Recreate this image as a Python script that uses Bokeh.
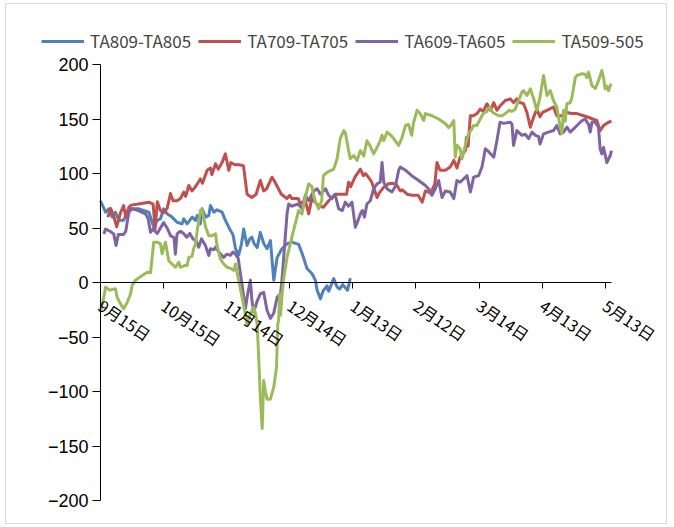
from bokeh.plotting import figure
from bokeh.models import FixedTicker, Legend, LegendItem, Range1d
from bokeh.embed import file_html
from bokeh.resources import INLINE

# ---- data (x = days after 9月15日) ----
tick_days = [0, 30, 60, 90, 120, 150, 180, 210, 240]
tick_labels = ["9月15日", "10月15日", "11月14日", "12月14日", "1月13日",
               "2月12日", "3月14日", "4月13日", "5月13日"]
y_ticks = [-200, -150, -100, -50, 0, 50, 100, 150, 200]
y_tick_labels = ["\u2212200", "\u2212150", "\u2212100", "\u221250", "0", "50", "100", "150", "200"]

ta809_x = [0, 2.4, 4, 5.6, 7.1, 8.7, 11, 13.5, 18.2, 23, 25.3, 27, 28.5, 30, 31.7, 34, 36.4,
           38.8, 39.6, 41.2, 43.6, 45.2, 46, 47.5, 48.3, 50, 51.5, 52.3, 53.9, 55.4, 57.8,
           59.4, 61.8, 63, 64.2, 65.7, 67, 68.1, 69.7, 71, 72, 73, 74.5, 76, 77.6, 79.2,
           80.8, 82.4, 84, 86.3, 88.7, 91, 94.2, 95.9, 98.2, 100.6, 102.2, 103, 104.6,
           105.8, 107.7, 108.5, 110.9, 112.5, 113.7, 115.2, 117.5, 118.8]
ta809_y = [75, 64.5, 67.6, 60, 64.5, 57, 57, 67.6, 67.6, 64.5, 51, 57, 58.4, 67.6, 63, 60, 55.3,
           53.8, 58.4, 53.8, 60, 57, 61.5, 53.8, 67.6, 60, 61.5, 70.6, 64.5, 66.7, 64.5,
           57, 47.7, 44, 31, 25, 35, 49, 34, 40, 41.6, 36, 32, 46, 36, 31,
           38.5, 2, 23, 31, 35.6, 37, 35, 26.6, 12.8, 8, 2, -7, -15,
           -8, -3, -8, 3.6, -4, -6, -2, -7, 4]

ta709_x = [3.5, 4.8, 6, 7.7, 9.5, 11, 12, 13.5, 14.5, 18, 23, 25, 26, 27, 28.5, 30, 31.7, 33.3,
           34.5, 36.4, 38, 39.6, 40.5, 42, 43.5, 45, 47.5, 48.5, 50.7, 52.3, 53, 54.7, 56,
           57.8, 59.4, 61, 62, 64, 66, 68, 69.7, 72, 74, 76, 77.6, 79, 81.6, 83, 86, 88.7,
           90, 91, 94, 95, 97.4, 99, 100.5, 102.8, 106, 108.5, 111.7, 115, 117, 118, 119,
           121, 123.6, 125, 126, 128, 129, 131.5, 132.5, 134.7, 137, 139, 140.6, 142.6,
           143.5, 145.8, 148, 151, 153, 154.5, 157, 159, 160, 161.5, 164, 166.3, 168,
           169.5, 171, 173.5, 174, 174.8, 175.9, 177.4, 179, 180.6, 182, 183.8, 185.5,
           187, 188.5, 190, 192.5, 194.9, 196.4, 198, 199.6, 201.2, 202.8, 204.4, 206,
           207.5, 209, 210.2, 212.3, 215.4, 217, 219.5, 221.8, 224, 226.6, 229.7, 232,
           234, 236, 237.6, 239.2, 241.6, 243]
ta709_y = [60, 68, 63, 51, 64, 70.6, 60, 69, 71, 72, 73.7, 72, 49.5, 74, 66, 64, 68, 81.6,
           75, 75, 77, 83, 79, 89, 84, 87.5, 95, 91, 103, 105, 99, 109, 104,
           110, 118, 103, 110, 108, 108, 107, 81, 78, 81, 93.6, 84, 86, 96.6, 92, 81, 77,
           80, 77, 77, 72.5, 75, 63, 77, 72, 69, 75, 81, 81, 81, 92, 88,
           96.6, 104, 98, 100, 95, 92, 78, 82, 87.5, 90.5, 91, 90, 84,
           85, 81, 80, 80, 73.7, 84, 82, 90.5, 110, 103, 103, 106, 112,
           105, 115, 121, 133, 125, 153, 153, 155, 159, 157, 164, 158,
           165, 158, 162, 167, 168.5, 165, 168.5, 165, 164, 156, 142.5, 152,
           159, 152, 156, 158, 161, 153, 153, 156, 155, 155, 153, 151.6,
           150, 148.6, 139.4, 144, 147, 148]

ta609_x = [1.6, 2.4, 4.5, 6.3, 7.4, 8.5, 11, 12, 13.5, 15, 18, 21.4, 22.6, 23.8, 25, 27, 28.5,
           30, 31.7, 33.3, 35, 35.6, 36.4, 38, 39.5, 41, 42.5, 44, 45.5, 46.7, 48, 49.9,
           51.5, 52.3, 53.9, 54.7, 56.2, 58.6, 60, 61.8, 63, 64.2, 65.5, 67, 68.9, 70,
           71.3, 72, 72.9, 74.5, 76, 77.6, 79.2, 80.8, 82.4, 84, 85.6, 86.3, 88.7, 89.5,
           91, 94, 95.9, 97.4, 99, 101.4, 103, 104.6, 107, 108.5, 110, 111.5, 113.3, 115,
           116.4, 118, 119.6, 120.4, 121.2, 122.5, 123.6, 124.5, 125.5, 126.7, 128.3,
           129.9, 131.5, 133, 133.9, 134.7, 136.3, 138.6, 140.2, 141.8, 142.6, 145, 148,
           151.3, 154.5, 156, 157.6, 159.2, 160.8, 162.4, 164, 166.3, 168, 169.5, 171,
           172.7, 174.3, 175.9, 176.7, 177.4, 179.8, 181.4, 182, 183, 184.6, 187, 188.5,
           190, 191.7, 194.9, 195.7, 196.4, 198, 200.4, 202, 203.6, 205.2, 206.8, 208.3,
           209, 210.7, 213, 215.4, 217, 218.6, 220.2, 221.8, 223.4, 225, 226.6, 229,
           230.5, 232.1, 232.9, 233.7, 235.3, 236.8, 237.6, 238.4, 239.2, 240.8, 242.4, 243]
ta609_y = [44.6, 49, 47, 44.6, 34, 44, 44, 47, 64.5, 67.6, 66, 63, 59, 46, 49, 45, 50,
           55, 50, 43, 41, 26, 44.6, 47, 45, 41.6, 45, 40, 38, 32.4, 40, 34,
           24.8, 31, 30, 32.4, 28, 23, 26, 25, 28, 26, 22, 2, -24, -10.4,
           2, -16.5, -27, -17, -10.4, -9, -25.7, -33, -28, -13.5, -10.4, 2, 63, 72,
           70, 72, 67.6, 80, 75, 84, 86, 81, 86, 80, 77, 81, 67.6, 66,
           73.7, 70, 73.7, 62, 50.7, 57, 63, 66, 60, 72, 75,
           86, 90.5, 92, 110, 92, 86, 83, 88, 103, 106, 103, 98,
           93.6, 89, 86, 80, 86, 93.6, 78, 84, 83, 77, 93.6, 92,
           95, 98, 83, 90, 96.6, 98, 106, 112, 122.7, 120, 115, 130,
           147, 146, 147, 145, 125.7, 139.4, 135, 136, 132, 138, 135, 134,
           127, 136.4, 138, 139.4, 144, 136.4, 138, 142.5, 138, 141, 144, 148.6,
           150, 145, 138, 147, 147, 142.5, 122.7, 118, 124, 110, 116.5, 121]

ta509_x = [0, 1.6, 2.4, 4.5, 6.5, 7.1, 7.9, 9.5, 11, 12.5, 14.3, 15, 16.6, 18, 19.8, 22.2,
           23.8, 25.3, 27, 28.5, 29.3, 30, 30.9, 31.7, 32.5, 34, 35.6, 37.2, 38, 40, 41.2,
           42, 43.5, 44.3, 45.2, 46, 47.5, 48.3, 49, 50, 51.5, 53, 54.7, 55.4, 57, 58.6,
           60.2, 61.8, 63.4, 64.2, 65.7, 68.1, 69.7, 71.3, 72.9, 73.7, 74.5, 75.3, 76,
           76.9, 77.6, 78.4, 79.2, 80.8, 82.4, 83.7, 84.3, 84.7, 85.2, 85.6, 86.3, 87,
           88.7, 91, 94.2, 95.8, 97.4, 99, 100.5, 102, 103.8, 105.2, 106, 107.7, 110.9,
           112.5, 114, 115.7, 116.5, 118, 118.8, 120.4, 122, 123.6, 125.2, 126.7, 128.3,
           129.9, 131.5, 133, 133.9, 134.7, 136.3, 138.6, 140.2, 141.8, 143.4, 145, 146.5,
           148, 148.8, 150.5, 152, 153.7, 154.5, 157.6, 160.8, 164, 165.6, 167.1, 168,
           168.7, 169.5, 171, 171.9, 173.5, 175, 176.6, 177.4, 179, 180.6, 182, 183.7,
           185, 186.5, 189.3, 191, 192.5, 194.2, 195.7, 197.2, 198.8, 200.4, 201.2, 202.8,
           204.4, 206, 207.5, 209, 210.7, 211.5, 212.3, 213.9, 215.4, 217, 218.6, 219.4,
           220.2, 221, 221.8, 223.4, 224.2, 225.8, 226.6, 229, 230.5, 231.3, 232.1, 233.7,
           235.3, 236.8, 238.4, 239.2, 240, 240.8, 241.6, 242.4, 243]
ta509_y = [-25.7, -13.5, -4.3, -7, -6, -5.8, -13.5, -19.6, -24, -19, -10.4, -2.8, 2, 4, 6.4, 9.5,
           9, 37, 37, 35.5, 26.3, 32, 37, 28, 20, 17, 14, 18.6, 14, 15.5, 15.6,
           23, 24, 31, 35.5, 47.7, 66, 67, 60, 50.7, 43, 43, 44.6, 34, 21.7, 17,
           14, 13, 11, 17, 2, -21, -38, -28.7, -22.6, -28.7, -38, -71.6, -105,
           -134, -90, -100, -107, -107, -96, -77.7, -38, -35, -10.4, -30, -12, 2,
           23, 41.6, 66, 63, 78, 90.5, 88, 75, 67.6, 75, 98, 101, 104,
           113.5, 132, 139.4, 137, 121, 113.5, 116.5, 112, 121, 116, 130, 125,
           118, 124, 130, 135, 130, 138, 134, 130, 125.7, 133, 144, 145,
           135, 146, 158, 155, 148.6, 155, 153, 150, 145.6, 142, 145.6, 148.6,
           115, 126, 122.7, 113.5, 126, 136.4, 141, 144, 144, 150, 155, 157,
           161, 156, 153, 153, 155, 158, 157, 159, 167, 174.6, 176, 171.6,
           177.7, 168.5, 158, 170, 190, 181, 171.6, 176, 167, 161, 142.5, 136.4,
           158, 148, 164, 165, 170, 188, 190, 191.5, 191, 188, 193, 180.7,
           178, 185, 194.5, 188, 177.7, 180, 176, 180.7, 182]

names = ["TA809-TA805", "TA709-TA705", "TA609-TA605", "TA509-505"]
colors = ["#4F81BD", "#C0504D", "#8064A2", "#9BBB59"]
series = [(ta809_x, ta809_y), (ta709_x, ta709_y), (ta609_x, ta609_y), (ta509_x, ta509_y)]

CJK = "Noto Sans CJK SC"

# the plotting frame fills the whole chart box; axes cross at (0, 0)
W, H = 662, 521
kx = 511 / 243.0       # px per day
ky = 436 / 400.0       # px per unit
x0 = -94 / kx
x1 = x0 + W / kx
y1 = 200 + 60 / ky
y0 = y1 - H / ky

p = figure(width=W, height=H, output_backend="svg", toolbar_location=None,
           x_range=Range1d(x0, x1), y_range=Range1d(y0, y1),
           min_border=0, min_border_left=0, min_border_right=0,
           min_border_top=0, min_border_bottom=0,
           styles={"border": "1px solid #D9D9D9", "margin-left": "5px", "margin-top": "3px"})
p.outline_line_color = None
p.xgrid.visible = False
p.ygrid.visible = False

renderers = []
for (xs, ys), c in zip(series, colors):
    r = p.line(xs, ys, line_color=c, line_width=3, line_join="round")
    renderers.append(r)

xa = p.xaxis[0]
xa.fixed_location = 0
xa.bounds = (0, 243)
xa.ticker = FixedTicker(ticks=tick_days)
xa.major_label_overrides = {d: l for d, l in zip(tick_days, tick_labels)}
xa.major_label_orientation = -0.6
xa.major_label_text_font = CJK
xa.major_label_text_font_size = "16px"
xa.major_label_text_color = "black"
xa.major_label_standoff = 15
xa.major_tick_in = 0
xa.major_tick_out = 6
xa.minor_tick_line_color = None
xa.axis_line_color = "black"
xa.major_tick_line_color = "black"

ya = p.yaxis[0]
ya.fixed_location = 0
ya.bounds = (-200, 200)
ya.ticker = FixedTicker(ticks=y_ticks)
ya.major_label_overrides = {t: l for t, l in zip(y_ticks, y_tick_labels)}
ya.major_label_text_font = "Liberation Sans"
ya.major_label_text_font_size = "18px"
ya.major_label_text_color = "black"
ya.major_label_standoff = 4
ya.major_tick_in = 0
ya.major_tick_out = 8
ya.minor_tick_line_color = None
ya.axis_line_color = "black"
ya.major_tick_line_color = "black"

legend = Legend(items=[LegendItem(label=n, renderers=[r]) for n, r in zip(names, renderers)],
                orientation="horizontal", location=(35, 472),
                label_text_font=CJK, label_text_font_size="17px",
                glyph_width=43, glyph_height=20, label_standoff=6, spacing=7,
                padding=0, margin=0, border_line_alpha=0, background_fill_alpha=0)
p.add_layout(legend, "center")

open("out.html", "w").write(file_html(p, INLINE))
